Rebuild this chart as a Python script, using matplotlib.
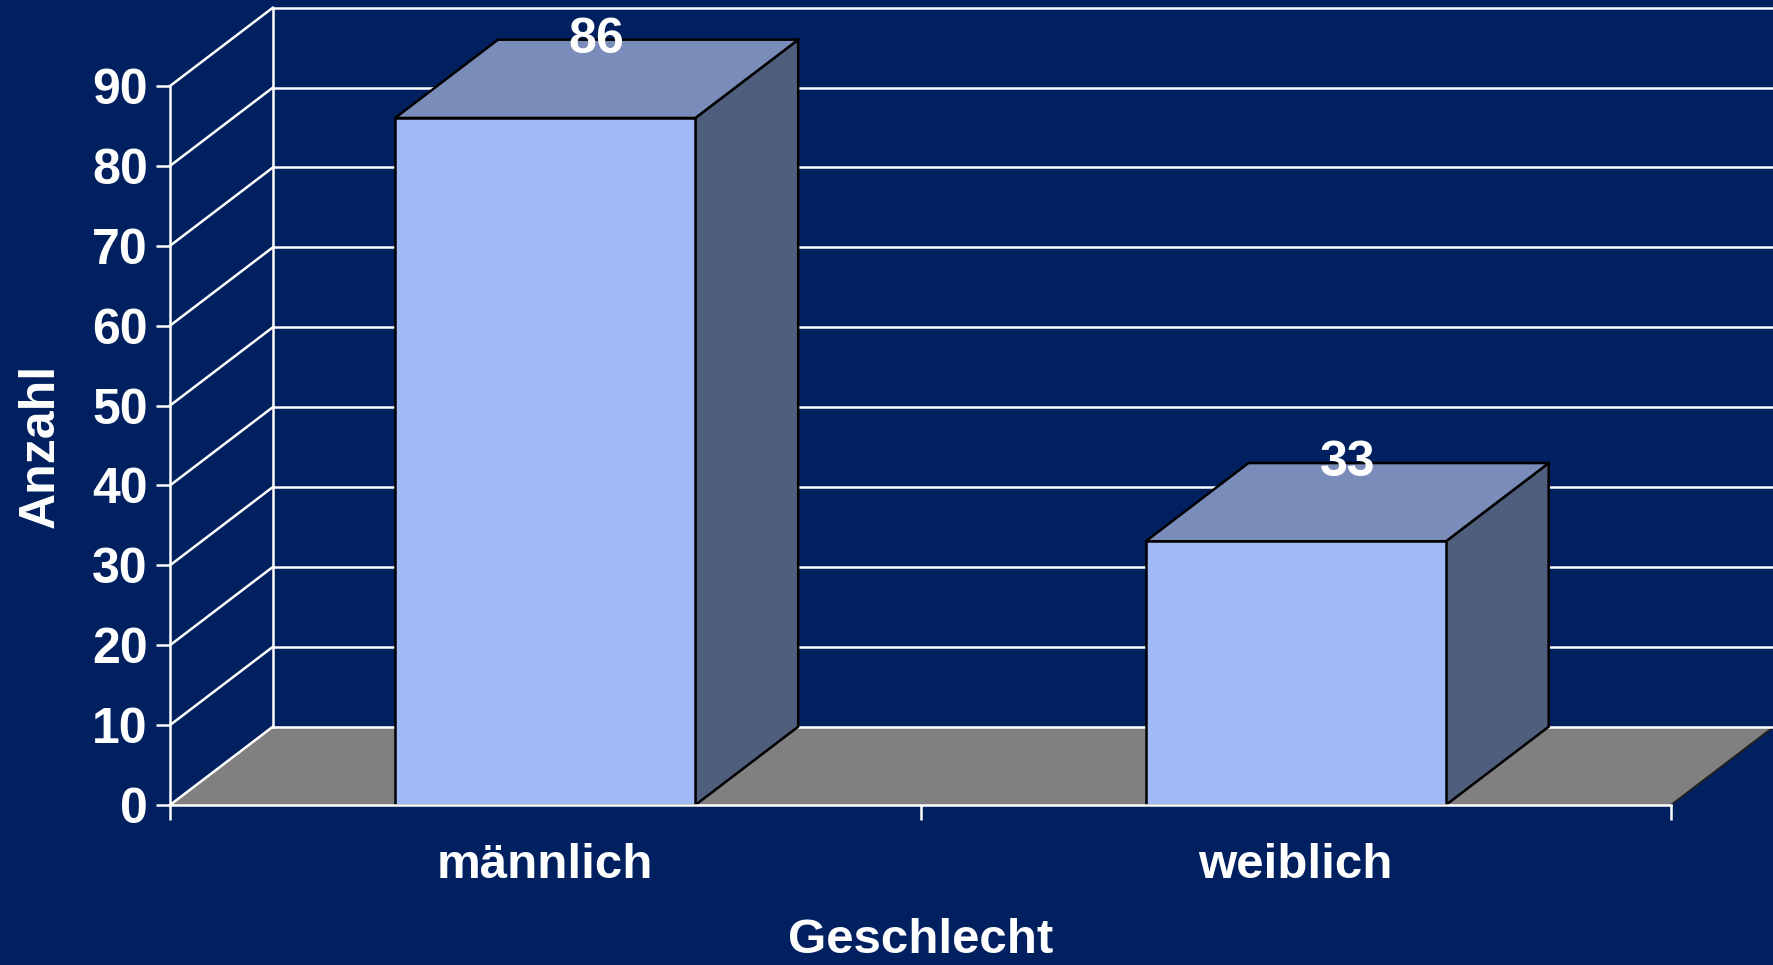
import matplotlib.pyplot as plt
from matplotlib.patches import Polygon, Rectangle

# data
categories = ['männlich', 'weiblich']
counts = [86, 33]
y_ticks = [0, 10, 20, 30, 40, 50, 60, 70, 80, 90]

bg = '#002060'
front_col = '#A1B9F7'
top_col = '#7A8DBA'
side_col = '#505E7E'
floor_col = '#808080'

plt.rcParams['font.family'] = ['Liberation Sans', 'DejaVu Sans']
plt.rcParams['font.weight'] = 'bold'

fig = plt.figure(figsize=(17.73, 9.65), dpi=100, facecolor=bg)
# front plane of the 3d box: categories 0..2, values 0..90
ax = fig.add_axes([170 / 1773, 160 / 965, 1501 / 1773, 719 / 965])
ax.set_facecolor('none')
ax.set_xlim(0, len(categories))
ax.set_ylim(0, 90)

dx, dy = 0.137, 9.8   # depth offset in data units
width = 0.4
xmax = len(categories) + dx + 0.05
wlw = 1.8

# floor
ax.add_patch(Polygon([(0, 0), (2, 0), (2 + dx, dy), (dx, dy)], closed=True,
                     facecolor=floor_col, edgecolor='none', zorder=1, clip_on=False))
ax.plot([0, dx], [0, dy], color='white', lw=wlw, zorder=2, clip_on=False)
ax.plot([2, 2 + dx], [0, dy], color='#202020', lw=1.4, zorder=2, clip_on=False)

# back wall and gridlines
ax.plot([dx, dx], [dy, 90 + dy], color='white', lw=wlw, zorder=2, clip_on=False)
for v in y_ticks:
    ax.plot([dx, xmax], [v + dy, v + dy], color='white', lw=wlw, zorder=2, clip_on=False)
    if v > 0:
        ax.plot([0, dx], [v, v + dy], color='white', lw=wlw, zorder=2, clip_on=False)

# bars
for i, (cat, val) in enumerate(zip(categories, counts)):
    x0 = i + 0.5 - width / 2
    x1 = i + 0.5 + width / 2
    ax.add_patch(Polygon([(x1, 0), (x1 + dx, dy), (x1 + dx, val + dy), (x1, val)],
                         closed=True, facecolor=side_col, edgecolor='black',
                         lw=1.8, zorder=3, clip_on=False))
    ax.add_patch(Polygon([(x0, val), (x1, val), (x1 + dx, val + dy), (x0 + dx, val + dy)],
                         closed=True, facecolor=top_col, edgecolor='black',
                         lw=1.8, zorder=3, clip_on=False))
    ax.add_patch(Rectangle((x0, 0), width, val, facecolor=front_col,
                           edgecolor='black', lw=1.8, zorder=4, clip_on=False))
    ax.text(i + 0.5 + dx / 2, val + dy, str(val), color='white', fontsize=36,
            fontweight='bold', ha='center', va='center', zorder=6, clip_on=False)

# axes styling
for s in ['top', 'right']:
    ax.spines[s].set_visible(False)
for s in ['left', 'bottom']:
    ax.spines[s].set_color('white')
    ax.spines[s].set_linewidth(wlw)
    ax.spines[s].set_zorder(5)

ax.set_yticks(y_ticks)
ax.set_yticklabels([str(v) for v in y_ticks])
ax.tick_params(axis='y', colors='white', labelsize=36, length=10, width=wlw, pad=6)

ax.set_xticks([0, 1, 2])
ax.set_xticklabels(['', '', ''])
ax.set_xticks([0.5, 1.5], minor=True)
ax.set_xticklabels(categories, minor=True)
ax.tick_params(axis='x', which='major', colors='white', length=11, width=wlw)
ax.tick_params(axis='x', which='minor', colors='white', labelsize=35.5, length=0, pad=27)

ax.set_xlabel('Geschlecht', color='white', fontsize=35.5, fontweight='bold', labelpad=22)
ax.set_ylabel('Anzahl', color='white', fontsize=36, fontweight='bold', labelpad=20)

fig.savefig('out.png', dpi=100, facecolor=bg)
